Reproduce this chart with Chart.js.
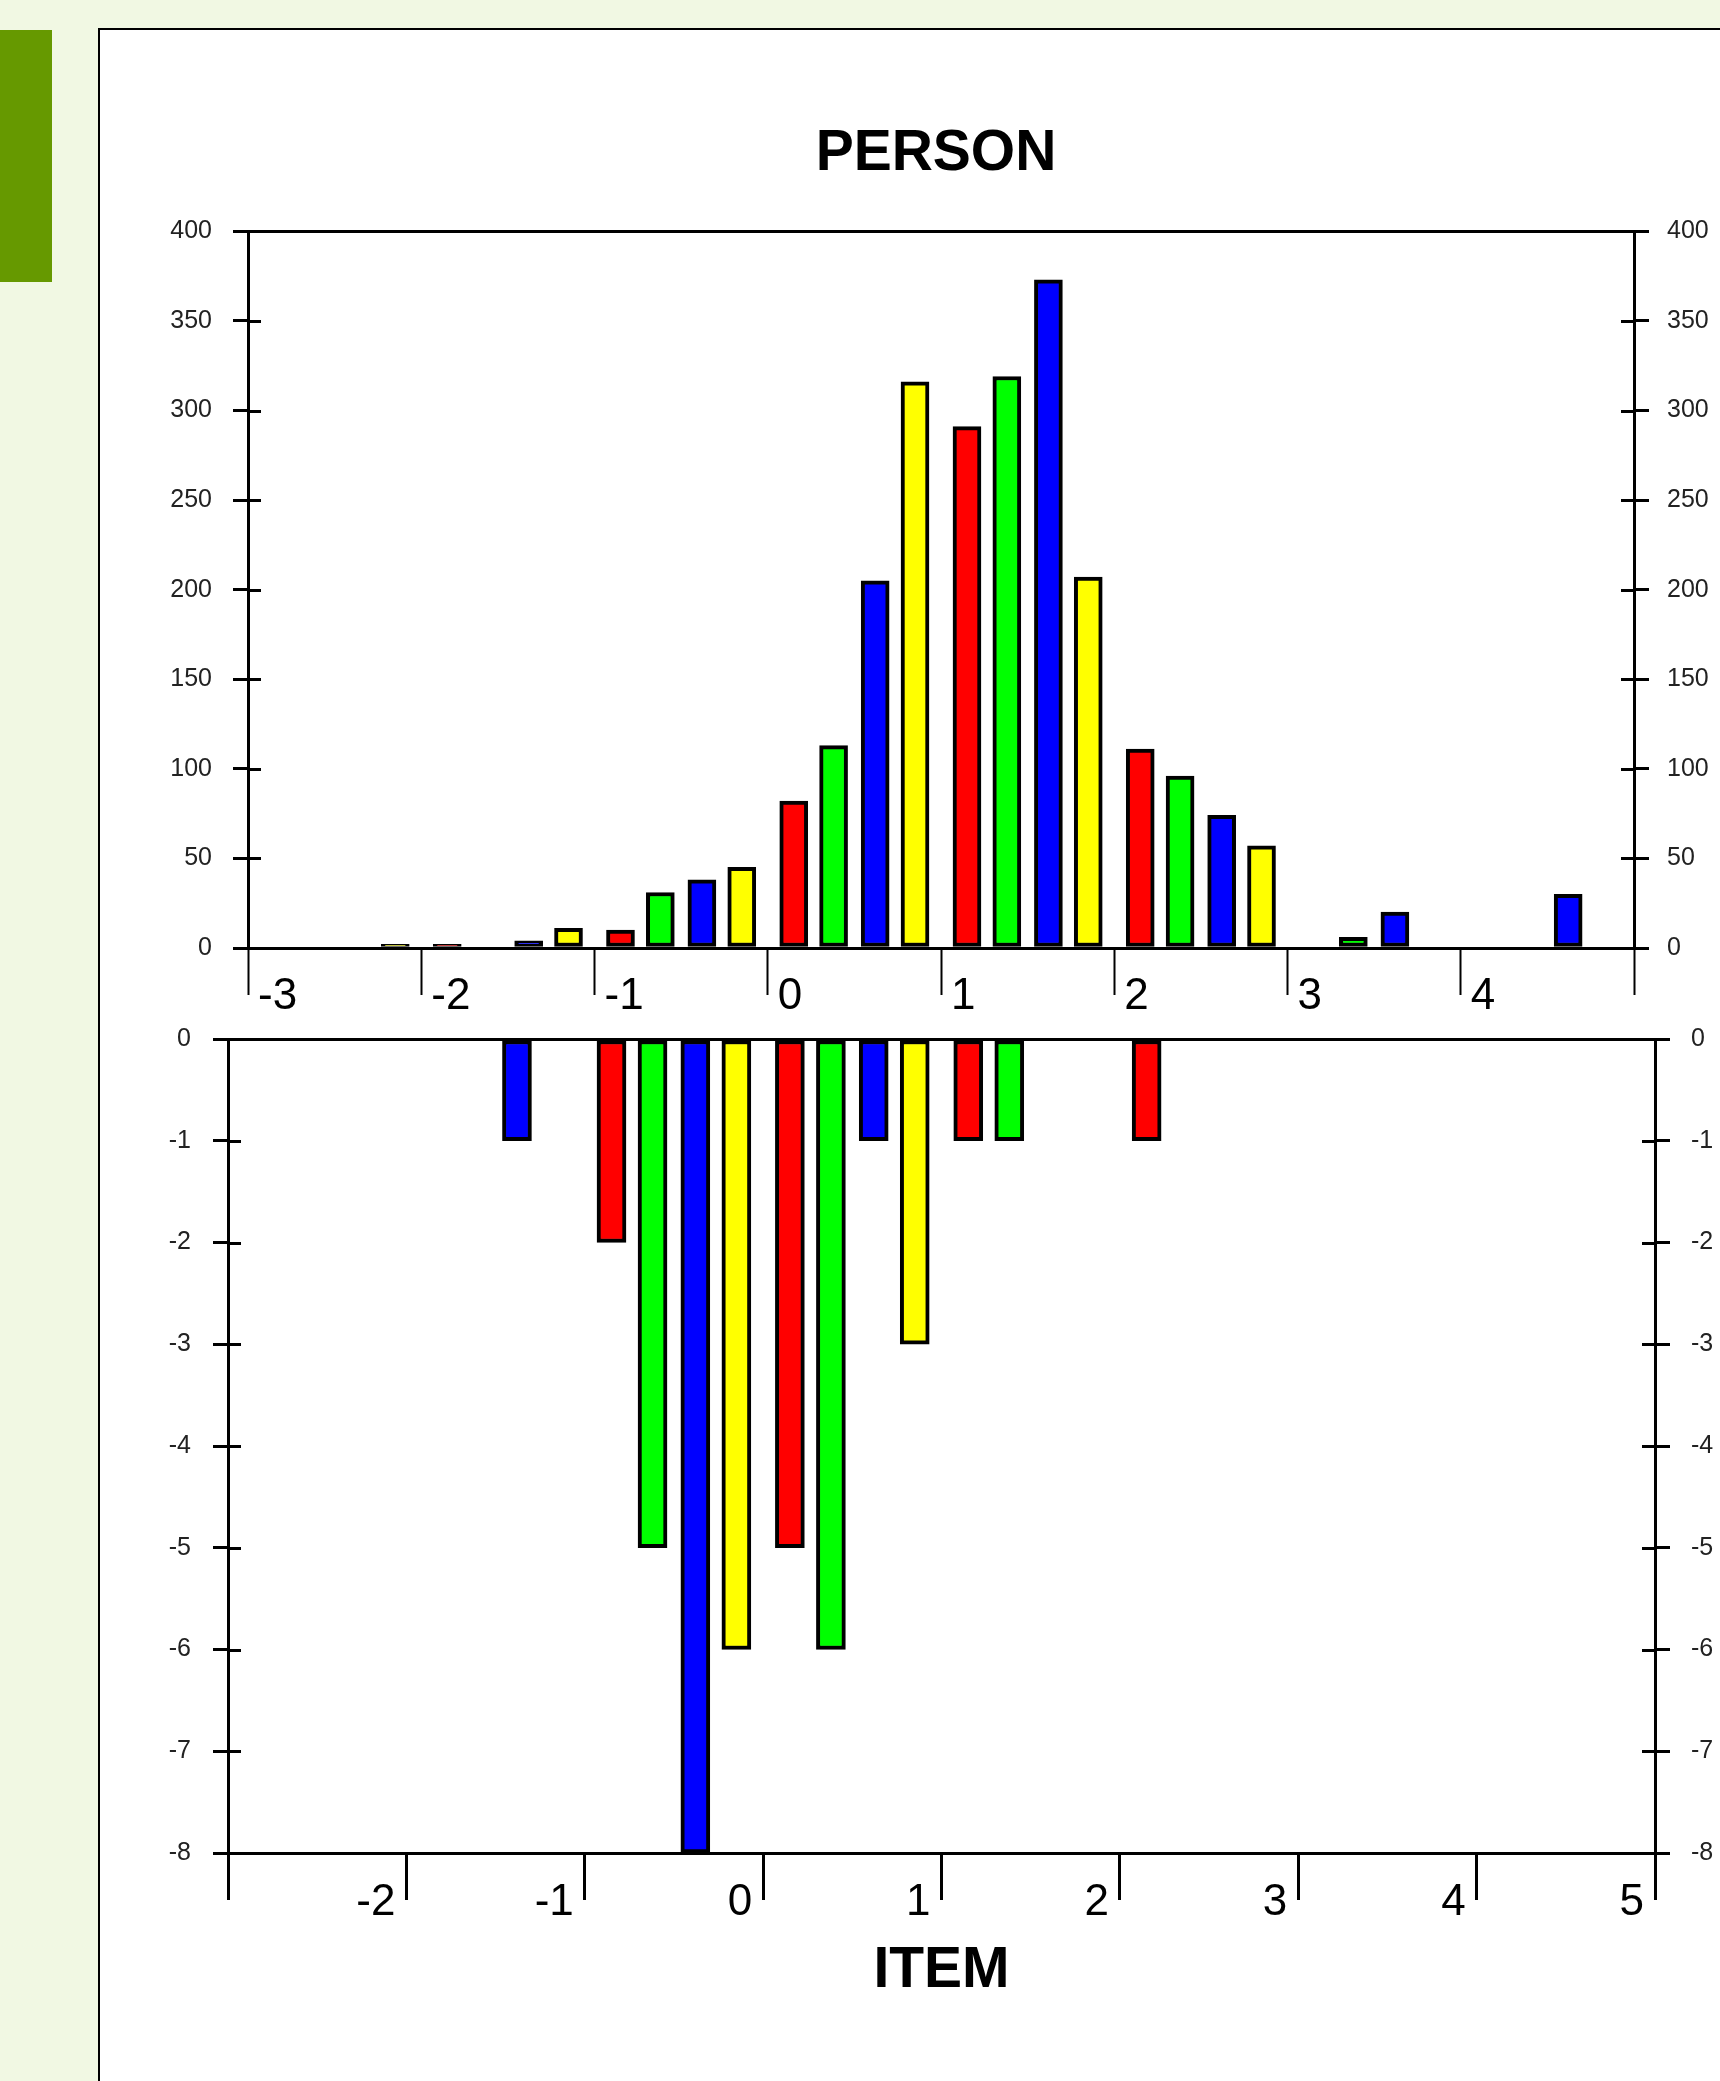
<!DOCTYPE html>
<html lang="en">
<head>
  <meta charset="UTF-8">
  <title>PERSON - ITEM</title>
  <script src="https://cdn.jsdelivr.net/npm/chart.js@4.4.1/dist/chart.umd.min.js"></script>
  <style>
    html, body {
      margin: 0;
      padding: 0;
    }
    body {
      width: 1720px;
      height: 2081px;
      background-color: #f1f8e3;
      position: relative;
      overflow: hidden;
      font-family: 'Liberation Sans', Arial, sans-serif;
    }
    .side-bar {
      position: absolute;
      left: 0;
      top: 30px;
      width: 52px;
      height: 252px;
      background-color: #669900;
    }
    .panel {
      position: absolute;
      left: 98px;
      top: 28px;
      width: 1700px;
      height: 2100px;
      background-color: #fff;
      border-left: 2px solid #000;
      border-top: 2px solid #000;
    }
    #personChart {
      position: absolute;
      left: 152px;
      top: 96px;
    }
    #itemChart {
      position: absolute;
      left: 150px;
      top: 1000px;
    }
  </style>
</head>
<body>
  <div class="side-bar"></div>
  <div class="panel"></div>
  <canvas id="personChart" width="1568" height="930"></canvas>
  <canvas id="itemChart" width="1570" height="1081"></canvas>

  <script>
    // measure ticks shared by both panels
    const measureTicks = [-3, -2, -1, 0, 1, 2, 3, 4, 5];

    // PERSON distribution (upper panel)
    const personMeasure = [-2.15, -1.85, -1.38, -1.15, -0.85, -0.62, -0.38, -0.15,
                           0.15, 0.38, 0.62, 0.85, 1.15, 1.38, 1.62, 1.85,
                           2.15, 2.38, 2.62, 2.85, 3.38, 3.62, 4.62];
    const personCount = [2, 2, 4, 11, 10, 31, 38, 45,
                         82, 113, 205, 316, 291, 319, 373, 207,
                         111, 96, 74, 57, 6, 20, 30];
    const personTicks = [0, 50, 100, 150, 200, 250, 300, 350, 400];

    // ITEM distribution (lower panel, drawn downward)
    const itemMeasure = [-1.38, -0.85, -0.62, -0.38, -0.15, 0.15, 0.38, 0.62, 0.85, 1.15, 1.38, 2.15];
    const itemCount = [-1, -2, -5, -8, -6, -5, -6, -1, -3, -1, -1, -1];
    const itemTicks = [0, -1, -2, -3, -4, -5, -6, -7, -8];

    // colour cycles every quarter logit: red, green, blue, yellow
    const binColors = ['#ff0000', '#00ff00', '#0000ff', '#ffff00'];
    function binColor(m) {
      const f = m - Math.floor(m);
      return binColors[Math.min(3, Math.floor(f * 4 + 1e-9))];
    }

    Chart.defaults.font.family = "'Liberation Sans', Arial, sans-serif";

    // short tick marks pointing into the plot on both y axes
    const innerTicks = {
      id: 'innerTicks',
      afterDraw(chart) {
        const ctx = chart.ctx;
        ctx.save();
        ctx.strokeStyle = '#000';
        ctx.lineWidth = 3;
        ['y', 'y2'].forEach(id => {
          const s = chart.scales[id];
          const x0 = id === 'y' ? s.right : s.left;
          const dir = id === 'y' ? 1 : -1;
          s.ticks.forEach(t => {
            const py = Math.round(s.getPixelForValue(t.value)) + 0.5;
            ctx.beginPath();
            ctx.moveTo(x0, py);
            ctx.lineTo(x0 + dir * 13, py);
            ctx.stroke();
          });
        });
        ctx.restore();
      }
    };

    function yScale(list, edgeValue, position, width, pad) {
      return {
        type: 'linear',
        position: position,
        min: Math.min(...list),
        max: Math.max(...list),
        afterBuildTicks: s => { s.ticks = list.map(v => ({ value: v })); },
        afterFit: s => { s.width = width; },
        border: { display: true, color: '#000', width: 3 },
        grid: {
          drawOnChartArea: position === 'left',
          color: c => (c.tick && c.tick.value === edgeValue) ? '#000' : 'rgba(0,0,0,0)',
          lineWidth: 3,
          drawTicks: true,
          tickLength: 15,
          tickWidth: 3,
          tickColor: '#000'
        },
        ticks: {
          padding: pad,
          color: '#222',
          font: { size: 25 },
          callback: v => String(v)
        }
      };
    }

    // upper chart
    new Chart(document.getElementById('personChart'), {
      type: 'bar',
      data: {
        datasets: [{
          data: personMeasure.map((m, i) => ({ x: m, y: personCount[i] })),
          backgroundColor: personMeasure.map(binColor),
          borderColor: '#000',
          borderWidth: 4,
          borderSkipped: false,
          barThickness: 28
        }]
      },
      options: {
        responsive: false,
        animation: false,
        devicePixelRatio: 1,
        layout: { padding: 0 },
        plugins: {
          legend: { display: false },
          tooltip: { enabled: false },
          title: {
            display: true,
            text: 'PERSON',
            color: '#000',
            font: { size: 57, weight: 'bold' },
            padding: { top: 24, bottom: 43 }
          }
        },
        scales: {
          x: {
            type: 'linear',
            position: 'bottom',
            min: measureTicks[0],
            max: measureTicks[measureTicks.length - 1],
            offset: false,
            afterBuildTicks: s => { s.ticks = measureTicks.map(v => ({ value: v })); },
            afterFit: s => { s.height = 78; },
            border: { display: true, color: '#000', width: 3 },
            grid: {
              offset: false,
              drawOnChartArea: false,
              drawTicks: true,
              tickLength: 47,
              tickWidth: 2,
              tickColor: '#000'
            },
            ticks: {
              align: 'start',
              labelOffset: 10,
              padding: -25,
              autoSkip: false,
              maxRotation: 0,
              color: '#000',
              font: { size: 44 },
              callback: v => v === 5 ? '' : String(v)
            }
          },
          y: yScale(personTicks, 400, 'left', 96, 21),
          y2: yScale(personTicks, 400, 'right', 86, 18)
        }
      },
      plugins: [innerTicks]
    });

    // lower chart
    new Chart(document.getElementById('itemChart'), {
      type: 'bar',
      data: {
        datasets: [{
          data: itemMeasure.map((m, i) => ({ x: m, y: itemCount[i] })),
          backgroundColor: itemMeasure.map(binColor),
          borderColor: '#000',
          borderWidth: 4,
          borderSkipped: false,
          barThickness: 29
        }]
      },
      options: {
        responsive: false,
        animation: false,
        devicePixelRatio: 1,
        layout: { padding: { top: 39, left: 0, right: 0, bottom: 0 } },
        plugins: {
          legend: { display: false },
          tooltip: { enabled: false }
        },
        scales: {
          x: {
            type: 'linear',
            position: 'bottom',
            min: measureTicks[0],
            max: measureTicks[measureTicks.length - 1],
            offset: false,
            afterBuildTicks: s => { s.ticks = measureTicks.map(v => ({ value: v })); },
            afterFit: s => { s.height = 228; },
            border: { display: true, color: '#000', width: 3 },
            grid: {
              offset: false,
              drawOnChartArea: false,
              drawTicks: true,
              tickLength: 47,
              tickWidth: 3,
              tickColor: '#000'
            },
            ticks: {
              align: 'end',
              labelOffset: -11,
              padding: -24,
              autoSkip: false,
              maxRotation: 0,
              color: '#000',
              font: { size: 44 },
              callback: v => v === -3 ? '' : String(v)
            },
            title: {
              display: true,
              text: 'ITEM',
              color: '#000',
              font: { size: 57, weight: 'bold' },
              padding: { top: 0, bottom: 76 }
            }
          },
          y: yScale(itemTicks, 0, 'left', 78, 22),
          y2: yScale(itemTicks, 0, 'right', 65, 21)
        }
      },
      plugins: [innerTicks]
    });
  </script>
</body>
</html>
